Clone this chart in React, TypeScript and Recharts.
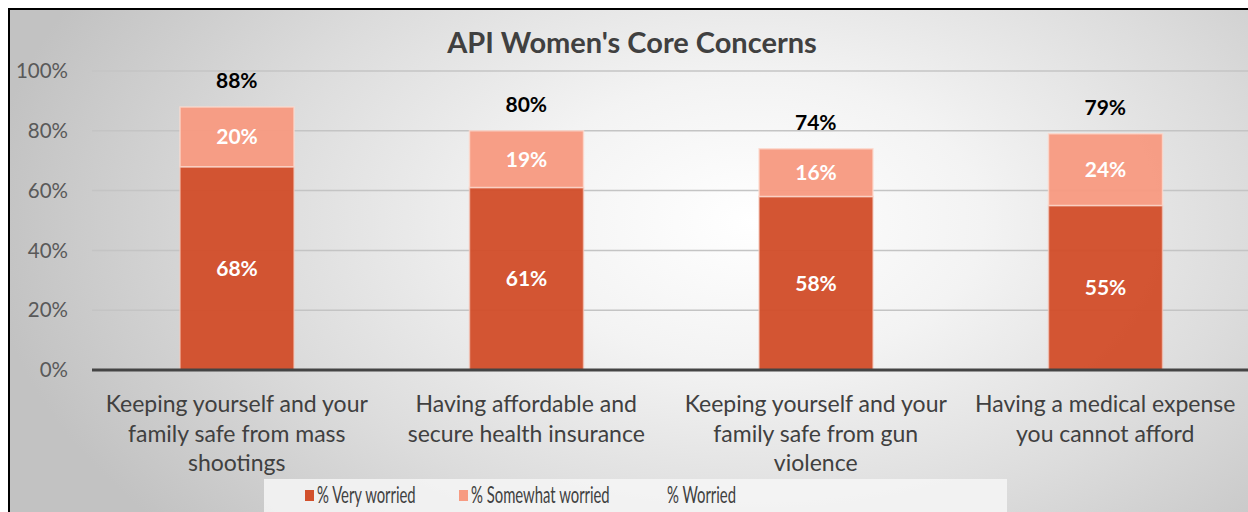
import {
  Bar,
  CartesianGrid,
  ComposedChart,
  LabelList,
  Legend,
  Line,
  XAxis,
  YAxis,
} from "recharts";

const categoryLines = [
  ["Keeping yourself and your", "family safe from mass", "shootings"],
  ["Having affordable and", "secure health insurance"],
  ["Keeping yourself and your", "family safe from gun", "violence"],
  ["Having a medical expense", "you cannot afford"],
];
const veryWorried = [68, 61, 58, 55];
const somewhatWorried = [20, 19, 16, 24];
const worried = [88, 80, 74, 79];
const yTicks = [0, 20, 40, 60, 80, 100];

const seriesNames = ["% Very worried", "% Somewhat worried", "% Worried"];
const DARK = "#d2502c";
const LIGHT = "#f79b82";
const FONT = "Lato, 'Open Sans', sans-serif";

const data = categoryLines.map((lines, i) => ({
  name: lines.join(" "),
  very: veryWorried[i],
  somewhat: somewhatWorried[i],
  worried: worried[i],
}));

const CategoryTick = (props: { x?: number; y?: number; payload?: { index: number } }) => {
  const { x = 0, y = 0, payload } = props;
  const lines = categoryLines[payload?.index ?? 0] ?? [];
  return (
    <text x={x} y={y} textAnchor="middle" fill="#404040" fontSize={23} fontFamily={FONT}>
      {lines.map((l, i) => (
        <tspan key={i} x={x} y={y + 34 + i * 29.5}>
          {l}
        </tspan>
      ))}
    </text>
  );
};

const legendColors = [DARK, LIGHT, "transparent"];
// left offsets (px) of marker and text inside the legend strip
const legendMarkerX = [41, 195, 391];
const legendTextX = [53, 207, 403];

const LegendBox = () => (
  <div
    style={{
      position: "relative",
      width: 743,
      height: 34,
      background: "rgba(246,246,246,0.85)",
      fontFamily: FONT,
      fontSize: 22.5,
      color: "#404040",
    }}
  >
    {seriesNames.map((n, i) => (
      <div key={n}>
        <span
          style={{
            position: "absolute",
            left: legendMarkerX[i],
            top: 11,
            width: 9,
            height: 11,
            background: legendColors[i],
          }}
        />
        <span
          style={{
            position: "absolute",
            left: legendTextX[i],
            top: 2,
            whiteSpace: "nowrap",
            transform: "scaleX(0.66)",
            transformOrigin: "left center",
          }}
        >
          {n}
        </span>
      </div>
    ))}
  </div>
);

export default function App() {
  return (
    <div
      style={{
        position: "absolute",
        left: 8,
        top: 8,
        width: 1240,
        height: 504,
        overflow: "hidden",
        borderTop: "2px solid #000",
        borderLeft: "2px solid #000",
        boxSizing: "border-box",
        background:
          "radial-gradient(ellipse 62% 95% at 60% 42%, #ffffff 0%, #f3f3f3 30%, #dcdcdc 65%, #c2c2c2 100%)",
      }}
    >
      <div
        style={{
          position: "absolute",
          top: 14,
          left: 0,
          width: 1244,
          textAlign: "center",
          fontFamily: FONT,
          fontWeight: 700,
          fontSize: 29,
          color: "#404040",
        }}
      >
        API Women's Core Concerns
      </div>
      <div style={{ position: "absolute", left: -2, top: -2 }}>
        <ComposedChart
          width={1252}
          height={506}
          data={data}
          margin={{ top: 63, right: 10, bottom: 0, left: 0 }}
        >
          <CartesianGrid vertical={false} stroke="#c4c4c4" strokeWidth={1.5} />
          <XAxis
            dataKey="name"
            tick={<CategoryTick />}
            tickLine={false}
            axisLine={{ stroke: "#444", strokeWidth: 3 }}
            height={144}
            interval={0}
          />
          <YAxis
            domain={[0, 100]}
            ticks={yTicks}
            tickFormatter={(v) => `${v}%`}
            tick={{ fill: "#595959", fontSize: 20.5, fontFamily: FONT }}
            tickLine={false}
            tickSize={0}
            tickMargin={24}
            axisLine={false}
            width={84}
          />
          <Legend
            layout="horizontal"
            verticalAlign="middle"
            content={<LegendBox />}
            wrapperStyle={{ left: 256, top: 471, width: 743 }}
          />
          <Bar
            dataKey="very"
            stackId="a"
            name={seriesNames[0]}
            fill={DARK}
            fillOpacity={0.97}
            stroke="#f3c8bb"
            strokeOpacity={0.7}
            strokeWidth={1.5}
            barSize={114}
            isAnimationActive={false}
          >
            <LabelList
              dataKey="very"
              position="center"
              formatter={(v) => `${v}%`}
              fill="#ffffff"
              fontSize={21}
              fontWeight={700}
              fontFamily={FONT}
            />
          </Bar>
          <Bar
            dataKey="somewhat"
            stackId="a"
            name={seriesNames[1]}
            fill={LIGHT}
            fillOpacity={0.97}
            stroke="#fbd9ce"
            strokeOpacity={0.8}
            strokeWidth={1.5}
            barSize={114}
            isAnimationActive={false}
          >
            <LabelList
              dataKey="somewhat"
              position="center"
              formatter={(v) => `${v}%`}
              fill="#ffffff"
              fontSize={21}
              fontWeight={700}
              fontFamily={FONT}
            />
          </Bar>
          <Line
            dataKey="worried"
            name={seriesNames[2]}
            stroke="none"
            dot={false}
            activeDot={false}
            isAnimationActive={false}
          >
            <LabelList
              dataKey="worried"
              position="top"
              offset={19}
              formatter={(v) => `${v}%`}
              fill="#000000"
              fontSize={21}
              fontWeight={700}
              fontFamily={FONT}
            />
          </Line>
        </ComposedChart>
      </div>
    </div>
  );
}
